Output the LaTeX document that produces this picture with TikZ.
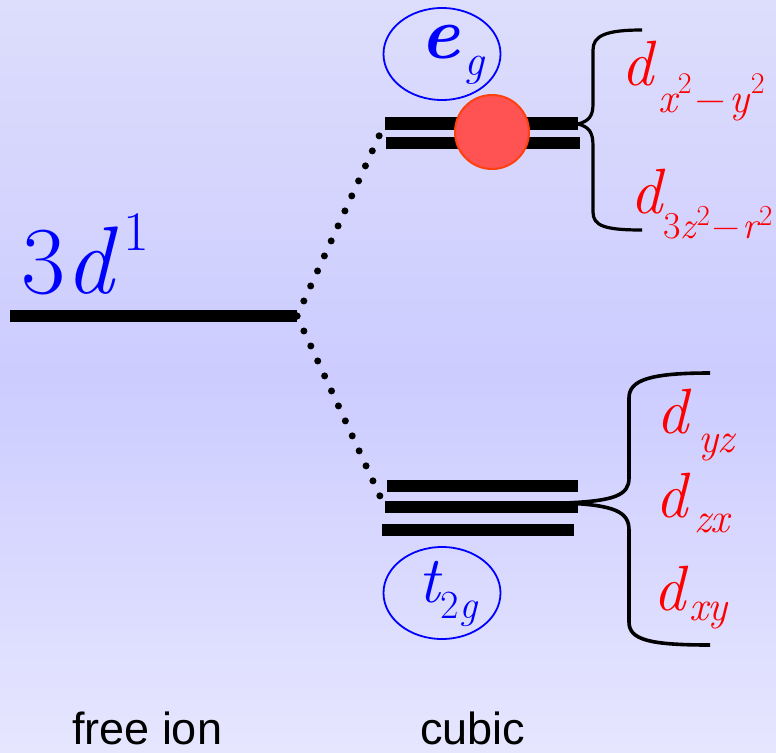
\documentclass[tikz,border=0pt]{standalone}
\usepackage{fontspec}
\usepackage{tikz}
\usetikzlibrary{shapes.geometric}
\newfontfamily\capfont{Liberation Sans}
\newcommand{\sizept}[1]{\fontsize{#1}{#1}\selectfont}
\definecolor{bgtop}{RGB}{221,221,252}
\definecolor{bgmid}{RGB}{204,204,255}
\definecolor{bgbot}{RGB}{230,230,255}
\definecolor{orbred}{RGB}{255,82,82}
\definecolor{orbedge}{RGB}{255,64,16}
\tikzset{
  level/.style={line width=12pt},
  dots/.style={line width=7pt, line cap=round, dash pattern=on 0pt off 16.5pt},
  curly/.style={line width=3.2pt},
  orbit/.style={draw=blue, line width=1.8pt, ellipse, minimum width=117pt, minimum height=92pt, inner sep=0pt},
  lbl/.style={anchor=base west, inner sep=0pt, outer sep=0pt},
  dlbl/.style={lbl, text=red, font=\rmfamily\sizept{64}\itshape},
}
\begin{document}
\begin{tikzpicture}[x=1pt,y=-1pt]
  \useasboundingbox (0,0) rectangle (776,752);
  \fill[top color=bgtop, bottom color=bgbot, middle color=bgmid] (0,0) rectangle (776,752);%
  % level ends
  \coordinate (fiW) at (10,316);%
  \coordinate (fiE) at (297,316);%
  \coordinate (egaW) at (385,123);%
  \coordinate (egaE) at (578,123);%
  \coordinate (egbW) at (386,143);%
  \coordinate (egbE) at (580,143);%
  \coordinate (taW) at (387,486);%
  \coordinate (taE) at (578,486);%
  \coordinate (tbW) at (385,507);%
  \coordinate (tbE) at (578,507);%
  \coordinate (tcW) at (382,530);%
  \coordinate (tcE) at (574,530);%
  \coordinate (egTip) at (578,124);%
  \coordinate (tTip) at (565,503);%
  % levels
  \draw [level] (fiW) -- (fiE);%
  \draw [level, line width=13pt] (egaW) -- (egaE);%
  \draw [level] (egbW) -- (egbE);%
  \draw [level] (taW) -- (taE);%
  \draw [level] (tbW) -- (tbE);%
  \draw [level] (tcW) -- (tcE);%
  % splitting
  \draw [dots] (fiE) -- (egaW);%
  \draw [dots] (fiE) -- (tbW);%
  % electron
  \node [circle, fill=orbred, draw=orbedge, line width=2pt, minimum size=74pt, inner sep=0pt] (elec) at (492,132) {};%
  % braces
  \draw [curly] (egTip) .. controls (589,121) and (593,116) .. (593,104) -- (593,50) .. controls (593,36) and (605,30) .. (642,30);%
  \draw [curly] (egTip) .. controls (589,127) and (593,132) .. (593,146) -- (593,212) .. controls (593,226) and (605,230) .. (642,230);%
  \draw [curly, line width=3.6pt] (tTip) .. controls (615,501) and (629,495) .. (629,478) -- (629,398) .. controls (629,380) and (650,373) .. (710,373);%
  \draw [curly, line width=3.6pt] (tTip) .. controls (615,505) and (629,512) .. (629,530) -- (629,622) .. controls (629,640) and (650,645) .. (710,645);%
  % symmetry labels
  \node [orbit] (egring) at (442,54) {};%
  \node [orbit] (tring) at (442,593) {};%
  \node [lbl, text=blue, font=\rmfamily] (eglbl) at (420,59) {\sizept{74}\bfseries\itshape e\kern5pt\raisebox{-17pt}{\mdseries\sizept{44}g}};%
  \node [lbl, text=blue, font=\rmfamily] (tlbl) at (418,602) {\sizept{66}\itshape t\kern1pt\raisebox{-16pt}{\sizept{40}\upshape 2\kern1pt\itshape g}};%
  \node [lbl, text=blue, font=\rmfamily] (freelbl) at (21,293) {\sizept{96}3\textit{d}\kern6pt\raisebox{43pt}{\sizept{56}1}};%
  % orbitals
  \node [dlbl] (dx2y2) at (621,85) {d\kern5pt\raisebox{-27pt}{\sizept{42}x\kern1pt\raisebox{19pt}{\sizept{30}\upshape 2}\kern4pt\upshape −\kern4pt\itshape y\kern1pt\raisebox{19pt}{\sizept{30}\upshape 2}}};%
  \node [dlbl] (dz2) at (630,213) {d\kern1pt\raisebox{-25pt}{\sizept{38}\upshape 3\itshape z\kern1pt\raisebox{13pt}{\sizept{29}\upshape 2}\kern3pt\upshape −\kern2pt\itshape r\kern1pt\raisebox{13pt}{\sizept{29}\upshape 2}}};%
  \node [dlbl] (dyz) at (656,433) {d\kern10pt\raisebox{-19pt}{\sizept{42}yz}};%
  \node [dlbl] (dzx) at (655,517) {d\kern7pt\raisebox{-15pt}{\sizept{42}zx}};%
  \node [dlbl] (dxy) at (653,610) {d\kern4pt\raisebox{-10pt}{\sizept{42}xy}};%
  % captions
  \node [lbl, font=\capfont\sizept{45}] (freecap) at (72,744) {free ion};%
  \node [lbl, font=\capfont\sizept{45}] (cubcap) at (420,744) {cubic};%
\end{tikzpicture}
\end{document}
